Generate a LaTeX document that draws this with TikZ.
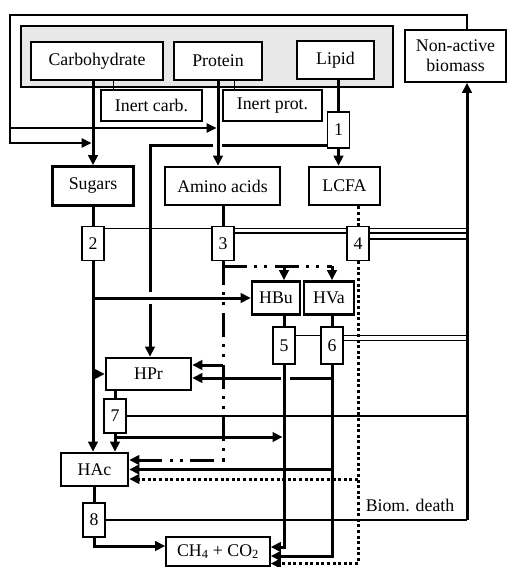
\documentclass[tikz,border=0pt]{standalone}
\usepackage{fontspec}
\setmainfont{Liberation Serif}
\usetikzlibrary{arrows.meta,calc}

\tikzset{
  bigbox/.style={draw,line width=2.6pt,fill=white,inner sep=0pt,minimum height=38pt},
  smallbox/.style={draw,line width=1.6pt,fill=white,inner sep=0pt},
  stepbox/.style={draw,line width=1.3pt,fill=white,inner sep=0pt,minimum width=22pt,minimum height=34pt},
  flow/.style={line width=3pt},
  thinln/.style={line width=1.3pt},
  arr/.style={-{Triangle[length=10pt,width=9.5pt]}},
  aadash/.style={dash pattern=on 24pt off 7pt on 3pt off 7pt on 3pt off 8pt},
  lcdots/.style={dash pattern=on 3pt off 2.6pt},
}

\begin{document}
\begin{tikzpicture}[x=1pt,y=-1pt,every node/.append style={font=\fontsize{17.8}{20}\selectfont}]
  \useasboundingbox (0,0) rectangle (507,567);

  % Panel z substratami
  \draw[thinln,fill=black!9] (21,26) rectangle (393,87);

  % Substraty
  \node[bigbox,minimum width=132pt] (carb) at (97,61) {Carbohydrate};
  \node[bigbox,minimum width=88pt] (prot) at (218,61) {Protein};
  \node[bigbox,minimum width=77pt] (lipid) at (335.5,60) {Lipid};
  \node[smallbox,minimum width=101pt,minimum height=52pt,align=center] (nab) at (455.5,56) {Non-active\\biomass};
  \node[smallbox,minimum width=101pt,minimum height=31pt] (inertc) at (151.5,105.5) {Inert carb.};
  \node[smallbox,minimum width=99pt,minimum height=31pt] (inertp) at (272.5,105.5) {Inert prot.};

  % Monomery
  \node[bigbox,minimum width=81pt,minimum height=39pt] (sugars) at (93,186) {Sugars};
  \node[bigbox,minimum width=115pt] (amino) at (222.5,186) {Amino acids};
  \node[bigbox,minimum width=71pt] (lcfa) at (344.5,186) {LCFA};

  % Kwasy i produkty
  \node[bigbox,minimum width=48pt,minimum height=33pt] (hbu) at (276,298) {HBu};
  \node[bigbox,minimum width=50pt,minimum height=33pt] (hva) at (329,298) {HVa};
  \node[bigbox,minimum width=85pt,minimum height=32pt] (hpr) at (148.5,374) {HPr};
  \node[bigbox,minimum width=67pt,minimum height=33pt] (hac) at (94.5,469.5) {HAc};
  \node[smallbox,minimum width=104pt,minimum height=29pt] (ch4) at (218,551.5) {CH\textsubscript{4} + CO\textsubscript{2}};

  % Procesy
  \node[stepbox,minimum height=36pt] (s1) at (338.5,130) {1};
  \node[stepbox] (s2) at (93,243.5) {2};
  \node[stepbox] (s3) at (223,243.5) {3};
  \node[stepbox] (s4) at (358,243.5) {4};
  \node[stepbox,minimum height=37pt] (s5) at (284,345.5) {5};
  \node[stepbox,minimum height=37pt] (s6) at (332,345.5) {6};
  \node[stepbox] (s7) at (115,416) {7};
  \node[stepbox] (s8) at (94,520) {8};

  \node (death) at (410,505) {Biom. death};

  % Punkty pomocnicze
  \coordinate (cW) at (10,0);
  \coordinate (cX) at (150,0);
  \coordinate (cM) at (467,0);
  \coordinate (jS) at (93,143);
  \coordinate (jP) at (218,128);
  \coordinate (y7) at (0,437);
  \coordinate (h1) at ([yshift=9.5pt]hac.east);
  \coordinate (h2) at (hac.east);
  \coordinate (h3) at ([yshift=-9.5pt]hac.east);
  \coordinate (p1) at ([yshift=9pt]hpr.east);
  \coordinate (p2) at ([yshift=-4pt]hpr.east);
  \coordinate (m0) at ([yshift=5.5pt]ch4.west);
  \coordinate (m1) at ([yshift=4.5pt]ch4.east);
  \coordinate (m2) at ([yshift=-4.5pt]ch4.east);
  \coordinate (m3) at ([yshift=-12pt]ch4.east);
  \coordinate (ic) at ($(inertc.north west)+(13,0)$);
  \coordinate (ip) at ($(inertp.north west)+(12,0)$);
  \coordinate (l1) at ([yshift=3pt]s1.south west);
  \coordinate (aa) at ([yshift=-5pt]s3.south);

  % Zawracanie biomasy
  \draw[thinln,arr,shorten >=1.5pt] (nab.north -| cM) |- (10,15) |- (jS);
  \draw[thinln,arr,shorten >=1.5pt] (cW |- jP) -- (jP);

  % Hydroliza
  \draw[flow,arr] (carb.south -| sugars) -- (sugars.north);
  \draw[flow,arr] (prot.south) -- (prot.south |- amino.north);
  \draw[flow] (lipid.south -| s1) -- (s1.north);
  \draw[flow,arr] (s1.south) -- (s1.south |- lcfa.north);
  \draw[thinln] (ic |- carb.south) -- (ic);
  \draw[thinln] (ip |- prot.south) -- (ip);

  % Z procesu 1 do HPr
  \draw[flow] (l1) -- ($(l1 -| prot)+(4,0)$);
  \draw[flow] ($(l1 -| prot)+(-5,0)$) -| ($(cX |- hbu.west)+(0,-6)$);
  \draw[flow,arr] ($(cX |- hbu.west)+(0,6)$) -- (hpr.north -| cX);

  % Cukry
  \draw[flow] (sugars.south) -- (s2.north);
  \draw[flow,arr] (s2.south) -- (s2.south |- hac.north);
  \draw[flow,arr] (s2 |- hbu.west) -- (hbu.west);
  \draw[flow,arr] (s2 |- hpr.west) -- (hpr.west);

  % Aminokwasy
  \draw[flow] (s3.north |- amino.south) -- (s3.north);
  \draw[flow,aadash,arr] (s3.south) |- (h1);
  \draw[flow,aadash] (aa) -- (aa -| s6);
  \draw[flow,arr] (aa -| s5) -- (hbu.north -| s5);
  \draw[flow,arr] (aa -| s6) -- (hva.north -| s6);
  \draw[flow,arr] (s3 |- p1) -- (p1);

  % LCFA
  \draw[flow,lcdots] (lcfa.south -| s4) -- (s4.north);
  \draw[flow,lcdots,arr] (s4.south) |- (m3);
  \draw[flow,lcdots,arr] (h3 -| s4) -- (h3);

  % HBu i HVa
  \draw[flow] (hbu.south -| s5) -- (s5.north);
  \draw[flow] (hva.south -| s6) -- (s6.north);
  \draw[flow,arr] (s5.south) |- (m1);
  \draw[flow,arr] (s6.south) |- (m2);
  \draw[flow] (s6 |- p2) -- ($(s5 |- p2)+(6,0)$);
  \draw[flow,arr] ($(s5 |- p2)+(-3,0)$) -- (p2);
  \draw[flow,arr] (s6 |- h2) -- (h2);

  % HPr i HAc
  \draw[flow] (hpr.south -| s7) -- (s7.north);
  \draw[flow,arr] (s7.south) -- (s7.south |- hac.north);
  \draw[flow,arr,shorten >=1.5pt] (s7 |- y7) -- (s5 |- y7);
  \draw[flow] (hac.south -| s8) -- (s8.north);
  \draw[flow,arr] (s8.south) |- (m0);

  % Przyrost biomasy
  \coordinate (b2) at ([yshift=-2.5pt]s2.north east);
  \coordinate (b3) at ([yshift=-7pt]s3.north east);
  \coordinate (b4) at ([yshift=-13pt]s4.north east);
  \coordinate (b5) at ([yshift=-9pt]s5.north east);
  \coordinate (b6) at ([yshift=-14pt]s6.north east);
  \draw[thinln] (b2) -- (b2 -| s3.west) (b2 -| s3.east) -- (b2 -| s4.west) (b2 -| s4.east) -- (b2 -| cM);
  \draw[thinln] (b3) -- (b3 -| s4.west) (b3 -| s4.east) -- (b3 -| cM);
  \draw[thinln] (b4) -- (b4 -| cM);
  \draw[thinln] (b5) -- (b5 -| s6.west) (b5 -| s6.east) -- (b5 -| cM);
  \draw[thinln] (b6) -- (b6 -| cM);
  \draw[thinln] (s7.east) -- (s7.east -| cM);
  \draw[thinln] (s8.east) -- (s8.east -| cM);
  \draw[flow,arr] (s8.east -| cM) -- (nab.south -| cM);
\end{tikzpicture}
\end{document}
